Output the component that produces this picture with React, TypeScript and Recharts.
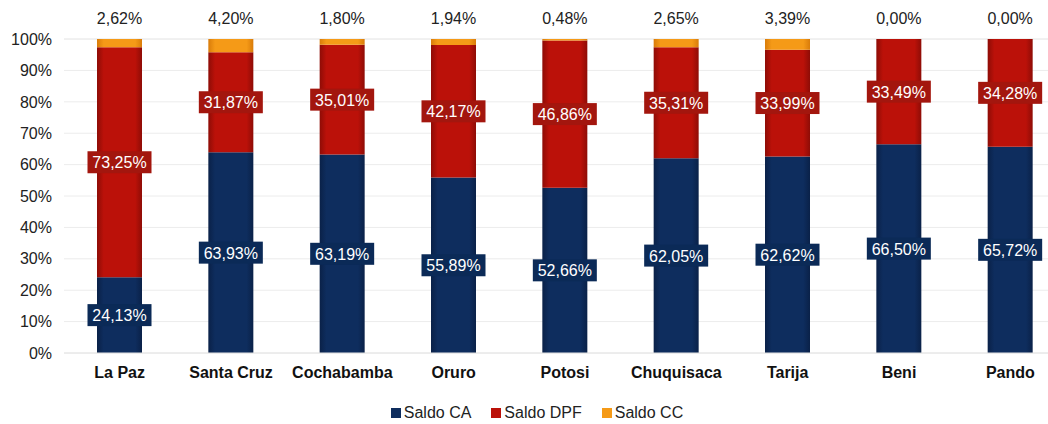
import { BarChart, Bar, XAxis, YAxis, CartesianGrid, Legend, LabelList } from "recharts";

const departamentos = ["La Paz", "Santa Cruz", "Cochabamba", "Oruro", "Potosi", "Chuquisaca", "Tarija", "Beni", "Pando"];
const saldoCA = [24.13, 63.93, 63.19, 55.89, 52.66, 62.05, 62.62, 66.5, 65.72];
const saldoDPF = [73.25, 31.87, 35.01, 42.17, 46.86, 35.31, 33.99, 33.49, 34.28];
const saldoCC = [2.62, 4.2, 1.8, 1.94, 0.48, 2.65, 3.39, 0.0, 0.0];
const ticksY = [0, 10, 20, 30, 40, 50, 60, 70, 80, 90, 100];

const series = [
  { key: "ca", nombre: "Saldo CA", color: "#0e2d5e" },
  { key: "dpf", nombre: "Saldo DPF", color: "#bb1109" },
  { key: "cc", nombre: "Saldo CC", color: "#f59a17" },
];

const datos = departamentos.map((nombre, i) => ({
  nombre,
  ca: saldoCA[i],
  dpf: saldoDPF[i],
  cc: saldoCC[i],
}));

const fmt = (v: number) => v.toFixed(2).replace(".", ",") + "%";
const fuente = "'Liberation Sans', Arial, sans-serif";

// etiqueta con recuadro en el centro del segmento
const etiquetaCaja = (fondo: string) => (props: any) => {
  const { x, y, width, height, value } = props;
  const cx = x + width / 2;
  const cy = y + height / 2;
  return (
    <g>
      <rect x={cx - 32} y={cy - 11} width={64} height={22} fill={fondo} />
      <text x={cx} y={cy + 6} textAnchor="middle" fill="#ffffff" fontSize={16} fontFamily={fuente}>
        {fmt(value)}
      </text>
    </g>
  );
};

// saldo CC encima de la barra (se cuelga del segmento DPF porque los CC en 0 no se dibujan)
const etiquetaArriba = (props: any) => {
  const { x, y, width, height, index } = props;
  const cc = saldoCC[index];
  const top = y - (height * cc) / saldoDPF[index];
  return (
    <text x={x + width / 2} y={top - 15} textAnchor="middle" fill="#222" fontSize={16} fontFamily={fuente}>
      {fmt(cc)}
    </text>
  );
};

const leyenda = () => (
  <div style={{ display: "flex", justifyContent: "center", gap: 20, fontFamily: fuente, fontSize: 16, color: "#222", paddingLeft: 8 }}>
    {series.map((s) => (
      <span key={s.key} style={{ display: "flex", alignItems: "center" }}>
        <span style={{ display: "inline-block", width: 10, height: 10, background: s.color, marginRight: 3 }} />
        {s.nombre}
      </span>
    ))}
  </div>
);

export default function App() {
  return (
    <div style={{ position: "absolute", left: 0, top: 0, width: 1048, height: 424, overflow: "hidden", background: "#fff" }}>
      <BarChart
        width={1066}
        height={424}
        data={datos}
        barSize={45}
        margin={{ top: 39, right: 0, left: 0, bottom: 13 }}
      >
        <defs>
          <linearGradient id="gCA" x1="0" y1="0" x2="1" y2="0">
            <stop offset="0%" stopColor="#0a2148" />
            <stop offset="15%" stopColor="#0e2d5e" />
            <stop offset="85%" stopColor="#0e2d5e" />
            <stop offset="100%" stopColor="#0a2148" />
          </linearGradient>
          <linearGradient id="gDPF" x1="0" y1="0" x2="1" y2="0">
            <stop offset="0%" stopColor="#8e0c06" />
            <stop offset="15%" stopColor="#bb1109" />
            <stop offset="85%" stopColor="#bb1109" />
            <stop offset="100%" stopColor="#8e0c06" />
          </linearGradient>
          <linearGradient id="gCC" x1="0" y1="0" x2="1" y2="0">
            <stop offset="0%" stopColor="#d97c0a" />
            <stop offset="15%" stopColor="#f59a17" />
            <stop offset="85%" stopColor="#f59a17" />
            <stop offset="100%" stopColor="#d97c0a" />
          </linearGradient>
        </defs>
        <CartesianGrid vertical={false} stroke="#ececec" />
        <XAxis
          dataKey="nombre"
          axisLine={{ stroke: "#e4e4e4" }}
          tickLine={false}
          tickMargin={8}
          height={40}
          tick={{ fill: "#111", fontSize: 16, fontWeight: "bold", fontFamily: fuente }}
        />
        <YAxis
          domain={[0, 100]}
          ticks={ticksY}
          width={64}
          axisLine={false}
          tickLine={false}
          tickMargin={6}
          tickFormatter={(v: number) => `${v}%`}
          tick={{ fill: "#222", fontSize: 16, fontFamily: fuente }}
        />
        <Legend
          verticalAlign="bottom"
          content={leyenda}
          wrapperStyle={{ bottom: 2, left: 0, width: 1066 }}
        />
        <Bar dataKey="ca" name="Saldo CA" stackId="a" fill="url(#gCA)" isAnimationActive={false}>
          <LabelList dataKey="ca" content={etiquetaCaja("#0b2a57")} />
        </Bar>
        <Bar dataKey="dpf" name="Saldo DPF" stackId="a" fill="url(#gDPF)" isAnimationActive={false}>
          <LabelList dataKey="dpf" content={etiquetaCaja("#a3160e")} />
          <LabelList dataKey="cc" content={etiquetaArriba} />
        </Bar>
        <Bar dataKey="cc" name="Saldo CC" stackId="a" fill="url(#gCC)" isAnimationActive={false} />
      </BarChart>
    </div>
  );
}
